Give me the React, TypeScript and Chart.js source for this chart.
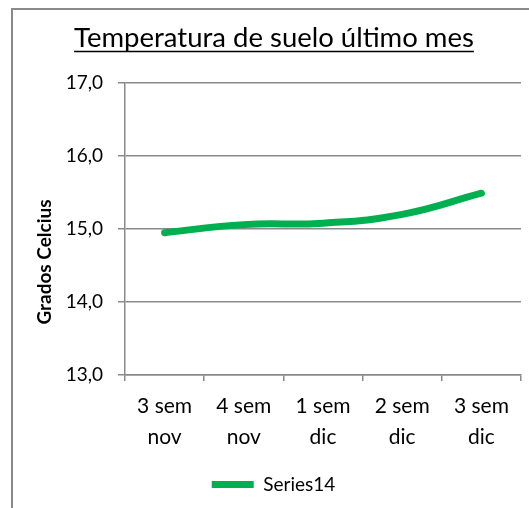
import React, { useEffect, useRef } from "react";
import { Chart, registerables } from "chart.js";

Chart.register(...registerables);

const chartTitle = "Temperatura de suelo último mes";
const yAxisTitle = "Grados Celcius";
const seriesName = "Series14";
const categories: string[][] = [
  ["3 sem", "nov"],
  ["4 sem", "nov"],
  ["1 sem", "dic"],
  ["2 sem", "dic"],
  ["3 sem", "dic"],
];
const seriesValues = [14.95, 15.06, 15.08, 15.2, 15.49];
const yMin = 13;
const yMax = 17;
const yStep = 1;

const FONT = "Lato, 'Open Sans', sans-serif";
const GREEN = "#00B050";
const GRID = "#8a8a8a";

const textPlugin = {
  id: "customText",
  afterDraw(chart: any) {
    const ctx = chart.ctx as CanvasRenderingContext2D;
    const area = chart.chartArea;
    ctx.save();
    // Title with underline
    ctx.font = `27.5px ${FONT}`;
    ctx.fillStyle = "#000";
    ctx.textAlign = "center";
    ctx.textBaseline = "alphabetic";
    const cx = 274;
    const by = area.top - 36;
    ctx.fillText(chartTitle, cx, by);
    const w = ctx.measureText(chartTitle).width;
    ctx.strokeStyle = "#000";
    ctx.lineWidth = 1.5;
    ctx.beginPath();
    ctx.moveTo(cx - w / 2, by + 4.5);
    ctx.lineTo(cx + w / 2, by + 4.5);
    ctx.stroke();
    // Y axis title
    ctx.font = `bold 19px ${FONT}`;
    ctx.translate(45, (area.top + area.bottom) / 2 + 33);
    ctx.rotate(-Math.PI / 2);
    ctx.textAlign = "center";
    ctx.textBaseline = "middle";
    ctx.fillText(yAxisTitle, 0, 0);
    ctx.restore();
  },
};

export default function App() {
  const ref = useRef<HTMLCanvasElement | null>(null);
  useEffect(() => {
    if (!ref.current) return;
    const chart = new Chart(ref.current, {
      type: "line",
      data: {
        labels: categories,
        datasets: [
          {
            label: seriesName,
            data: seriesValues,
            borderColor: GREEN,
            backgroundColor: GREEN,
            borderWidth: 7,
            borderCapStyle: "round",
            borderJoinStyle: "round",
            pointRadius: 0,
            pointStyle: "line",
            tension: 0.45,
            fill: false,
          },
        ],
      },
      options: {
        animation: false,
        responsive: false,
        maintainAspectRatio: false,
        layout: { padding: { left: 26, right: 8, top: 83, bottom: 4 } },
        plugins: {
          title: { display: false },
          tooltip: { enabled: false },
          legend: {
            display: true,
            position: "bottom",
            labels: {
              usePointStyle: true,
              pointStyle: "line",
              pointStyleWidth: 42,
              padding: 10,
              color: "#000",
              font: { family: FONT, size: 19 },
            },
          },
        },
        scales: {
          x: {
            offset: true,
            afterFit: (s: any) => {
              s.height = 90;
            },
            grid: {
              offset: true,
              drawOnChartArea: false,
              drawTicks: true,
              tickLength: 6,
              color: GRID,
              lineWidth: 1.5,
            },
            border: { display: true, color: GRID, width: 1.5 },
            ticks: {
              color: "#000",
              padding: 10,
              maxRotation: 0,
              autoSkip: false,
              font: { family: FONT, size: 21, lineHeight: 1.48 },
            },
          },
          y: {
            min: yMin,
            max: yMax,
            afterFit: (s: any) => {
              s.width = 99;
            },
            grid: {
              color: GRID,
              lineWidth: 1.5,
              drawTicks: true,
              tickLength: 7,
            },
            border: { display: true, color: GRID, width: 1.5 },
            ticks: {
              stepSize: yStep,
              color: "#000",
              padding: 15,
              font: { family: FONT, size: 19 },
              callback: (v: any) => Number(v).toFixed(1).replace(".", ","),
            },
          },
        },
      },
      plugins: [textPlugin],
    });
    return () => chart.destroy();
  }, []);
  return (
    <div
      style={{
        position: "fixed",
        left: 0,
        top: 0,
        width: 529,
        height: 508,
        overflow: "hidden",
        background: "#fff",
      }}
    >
      <div
        style={{
          position: "absolute",
          left: 11,
          top: 8,
          width: 600,
          height: 600,
          borderTop: "2px solid #8a8a8a",
          borderLeft: "2px solid #8a8a8a",
        }}
      />
      <canvas
        ref={ref}
        width={529}
        height={508}
        style={{ position: "absolute", left: 0, top: 0 }}
      />
    </div>
  );
}
